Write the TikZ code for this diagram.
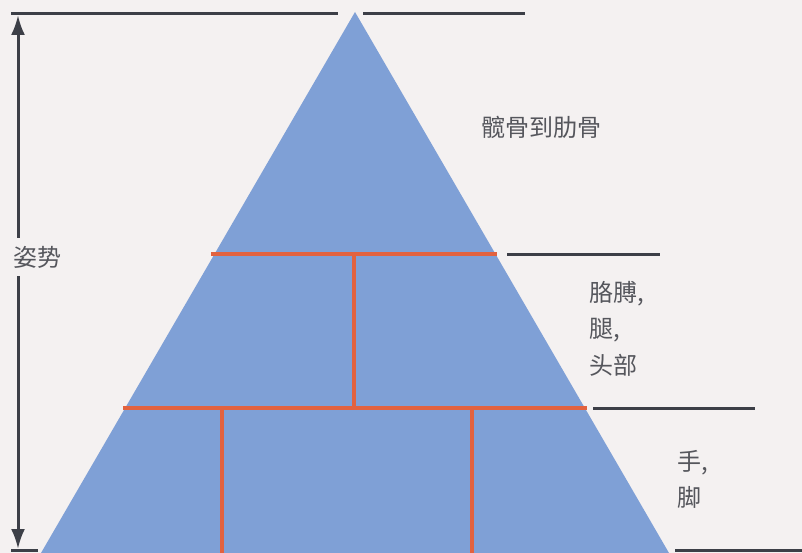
\documentclass[tikz,border=0pt]{standalone}
\usepackage{fontspec}
\newfontfamily\cjk{Noto Sans CJK SC}
\usetikzlibrary{arrows.meta}
\definecolor{bg}{HTML}{F4F1F1}
\definecolor{pyr}{HTML}{7FA0D6}
\definecolor{redl}{HTML}{E2623F}
\definecolor{darkl}{HTML}{3C3F47}
\definecolor{txt}{HTML}{55565C}
\tikzset{
  guide/.style={draw=darkl,line width=3pt},
  brick/.style={draw=redl,line width=4pt},
  lbl/.style={text=txt,font=\cjk\fontsize{24}{30}\selectfont,inner sep=0pt,anchor=west},
}
\begin{document}
\begin{tikzpicture}[x=1pt,y=-1pt]
\fill[bg] (0,0) rectangle (802,553);
\useasboundingbox (0,0) rectangle (802,553);
\begin{scope}
\clip (0,0) rectangle (802,553);
\coordinate (apex) at (355,12);
\coordinate (bl) at (41,553);
\coordinate (br) at (669,553);
\fill[pyr] (apex) -- (bl) -- (br) -- cycle;
% bricks
\draw[brick] (211,254) -- (497,254);
\draw[brick] (354,254) -- (354,408);
\draw[brick] (123,408) -- (587,408);
\draw[brick] (222,408) -- (222,556);
\draw[brick] (472,408) -- (472,556);
\end{scope}
% guide lines
\draw[guide] (11,14) -- (338,14);
\draw[guide] (363,14) -- (525,14);
\draw[guide] (507,254) -- (660,254);
\draw[guide] (593,408) -- (755,408);
\draw[guide] (11,550) -- (38,550);
\draw[guide] (675,550) -- (802,550);
% dimension arrow
\node[lbl,anchor=center] (pose) at (37,257) {姿势};
\coordinate (atop) at (18,15);
\coordinate (abot) at (18,549);
\draw[darkl,line width=3pt,-{Latex[length=20pt,width=14pt]}] (pose.north -| atop) ++(0,-8) -- (atop);
\draw[darkl,line width=3pt,-{Latex[length=20pt,width=14pt]}] (pose.south -| abot) ++(0,8) -- (abot);
% labels
\node[lbl] (t1) at (481,127) {髋骨到肋骨};
\node[lbl] (t2a) at (589,294) {胳膊,};
\node[lbl] (t2b) at (589,330) {腿,};
\node[lbl] (t2c) at (589,365) {头部};
\node[lbl] (t3a) at (677,463) {手,};
\node[lbl] (t3b) at (677,497) {脚};
\end{tikzpicture}
\end{document}
